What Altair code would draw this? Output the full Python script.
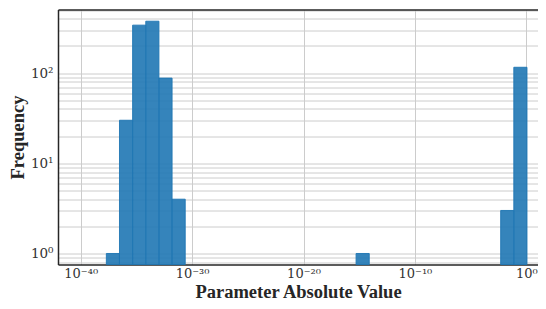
import altair as alt
import pandas as pd

# ---- data ----
bin_left_exp = [-37.70, -36.52, -35.34, -34.16, -32.98, -31.80, -15.28, -2.30, -1.12]
bin_width_exp = 1.18
counts = [1, 30, 340, 376, 88, 4, 1, 3, 116]

x_ticks = [1e-40, 1e-30, 1e-20, 1e-10, 1.0]
x_tick_exp = [-40, -30, -20, -10, 0]
x_tick_labels = ["10⁻⁴⁰", "10⁻³⁰", "10⁻²⁰", "10⁻¹⁰", "10⁰"]
y_major = [1, 10, 100]
y_major_labels = ["10⁰", "10¹", "10²"]
y_minor = [0.8, 0.9, 2, 3, 4, 5, 6, 7, 8, 9, 20, 30, 40, 50, 60, 70, 80, 90, 200, 300, 400, 500]

x_domain_exp = [-42.04, 1.05]
y_domain_exp = [-0.122, 2.705]

df = pd.DataFrame({
    "lo": [10 ** e for e in bin_left_exp],
    "hi": [10 ** (e + bin_width_exp) for e in bin_left_exp],
    "count": counts,
})

x_expr = " : ".join(
    f"round(log(datum.value)/LN10) == {e} ? '{lab}'" for e, lab in zip(x_tick_exp, x_tick_labels)
) + " : ''"
y_expr = " : ".join(
    f"datum.value == {v} ? '{lab}'" for v, lab in zip(y_major, y_major_labels)
) + " : ''"

y_min = 10 ** y_domain_exp[0]
frame = "#262626"
xscale = alt.Scale(type="log", domain=[10 ** x_domain_exp[0], 10 ** x_domain_exp[1]], nice=False)
yscale = alt.Scale(type="log", domain=[10 ** y_domain_exp[0], 10 ** y_domain_exp[1]], nice=False)

bars = alt.Chart(df).mark_bar(
    color="#1f77b4", fillOpacity=0.9, stroke="#1f77b4", strokeOpacity=0.9, strokeWidth=1
).encode(
    x=alt.X("lo:Q", scale=xscale,
            axis=alt.Axis(values=x_ticks, labelExpr=x_expr, title="Parameter Absolute Value",
                          ticks=False, domain=True, domainColor=frame, domainWidth=1.5,
                          labelPadding=3, titlePadding=2, labelFlush=False, labelFontSize=13)),
    x2="hi:Q",
    y=alt.Y("count:Q", scale=yscale,
            axis=alt.Axis(values=sorted(y_major + y_minor), labelExpr=y_expr, title="Frequency",
                          ticks=False, domain=True, domainColor=frame, domainWidth=1.5,
                          labelPadding=5, titlePadding=3, labelFlush=False)),
    y2=alt.datum(y_min),
)

# top frame line drawn as a second (label-less) x axis on top
top = alt.Chart(df).mark_bar(opacity=0).encode(
    x=alt.X("lo:Q", scale=xscale,
            axis=alt.Axis(orient="top", labels=False, ticks=False, grid=False, title=None,
                          domain=True, domainColor=frame, domainWidth=1.5)),
    x2="hi:Q",
    y=alt.Y("count:Q", scale=yscale,
            axis=alt.Axis(orient="right", labels=False, ticks=False, grid=False, title=None,
                          domain=False)),
    y2=alt.datum(y_min),
)

chart = alt.layer(bars, top).resolve_axis(x="independent", y="independent").properties(
    width=480, height=255,
    autosize=alt.AutoSizeParams(type="none"),
    padding={"left": 50, "top": 1.5, "right": 0, "bottom": 45},
).configure_view(
    stroke=None
).configure_axis(
    grid=True, gridColor="#cccccc", gridWidth=1,
    labelFont="DejaVu Serif", labelFontSize=13.5, labelColor="#333333",
    titleFont="Liberation Serif", titleFontSize=18.5, titleFontWeight="bold", titleColor="#262626",
)

chart.save("out.html", embed_options={"renderer": "svg", "actions": False})
